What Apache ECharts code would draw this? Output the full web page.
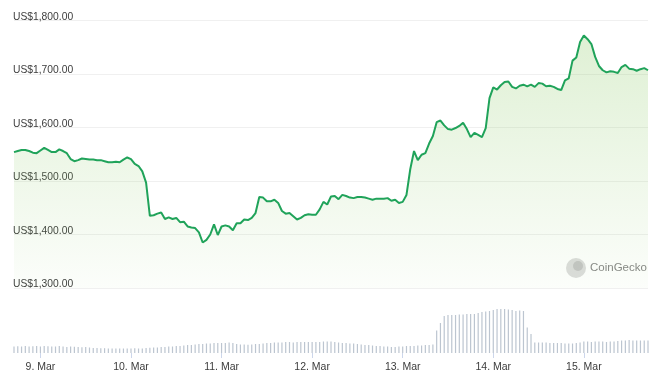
<!DOCTYPE html>
<html>
<head>
<meta charset="utf-8">
<script src="https://cdn.jsdelivr.net/npm/echarts@6/dist/echarts.min.js"></script>
<style>html,body{margin:0;padding:0;background:#fff;}#c{width:660px;height:376px;}</style>
</head>
<body>
<div id="c"></div>
<script>
// Hourly samples from 8 Mar 17:00 to 15 Mar 17:00
const startDay = 8;
const startHour = 17;
const dayLabels = ['9. Mar','10. Mar','11. Mar','12. Mar','13. Mar','14. Mar','15. Mar'];
const priceTicks = [1300, 1400, 1500, 1600, 1700, 1800];

const price = [
1554,1556,1558,1558,1556,1553,1552,1557,1562,1558,1554,1554,1559,1556,1552,1541,1537,1539,1542,1541,
1540,1540,1539,1539,1537,1535,1535,1536,1535,1540,1544,1541,1532,1528,1518,1497,1435,1436,1439,1441,
1429,1432,1429,1431,1423,1424,1415,1413,1412,1404,1385,1390,1400,1419,1399,1415,1417,1415,1408,1421,
1421,1428,1427,1431,1440,1470,1469,1462,1462,1465,1459,1444,1439,1440,1434,1428,1431,1436,1438,1437,
1437,1447,1461,1456,1471,1472,1466,1474,1472,1469,1468,1470,1470,1469,1467,1465,1467,1467,1467,1468,
1463,1465,1459,1461,1474,1522,1556,1539,1549,1552,1570,1584,1610,1613,1604,1597,1596,1599,1603,1609,
1597,1582,1590,1586,1582,1599,1655,1675,1671,1679,1685,1686,1676,1673,1678,1680,1677,1680,1676,1683,
1682,1677,1678,1676,1672,1670,1688,1692,1725,1731,1760,1772,1765,1756,1732,1715,1707,1703,1705,1704,
1702,1713,1717,1710,1709,1706,1709,1711,1707
];

const volume = [
6.5,6.8,6.5,7,6.5,6.8,7,6.5,7,6.8,6.5,
6.5,7,6.5,6,6.5,6.2,6,5.8,6,5.5,
5,5,4.8,4.8,4.5,4.5,4.6,4.5,
4.5,4.6,4.5,4.8,4.5,4.6,5,5.2,
5.5,5.5,6,6,6.5,6.5,7,7,7.5,
8,8,8.5,9,9,9.5,9.5,10,10,10,
10,10.5,10,9,8.5,8.5,8.2,
8.5,9,9,9.5,10,10,10.5,10.5,
10.5,11,11,10.5,11,11,11,11,11,11,11,11.5,11.5,11.5,
11,10.5,10,10,9.5,9.5,
9,8.5,8,8,7.5,7,7,
6.5,6.5,6,6,6.5,6.5,7,
7,7,7.5,7.5,8,8,8.5,
22.6,30,37,
38,38,38,38.5,38.5,39,39,39,40,
41,41.5,42,43,44,44,
44,43.5,43,42,42.5,42,
25.6,19,
10.5,10.5,10.5,10.5,10,10,10,10,
9.5,9.5,9.5,10,10.5,
11.5,11.5,11,11.5,11.5,11.5,11,11.5,11.5,12,
12.5,12.5,13,12.5,12.5,12.5,12.5,12.5
];

// hourly category keys
const hours = [];
for (let i = 0; i < price.length; i++) {
  const h = startHour + i;
  hours.push({ day: startDay + Math.floor(h / 24), hour: h % 24 });
}
const categories = hours.map(o => o.day + ' Mar ' + String(o.hour).padStart(2, '0') + ':00');
const isMidnight = (idx) => hours[idx] && hours[idx].hour === 0;
const labelFor = (idx) => dayLabels[hours[idx].day - 9] || '';

const chart = echarts.init(document.getElementById('c'), null, { renderer: 'canvas' });
const font = 'Liberation Sans, Arial, sans-serif';

chart.setOption({
  animation: false,
  backgroundColor: '#ffffff',
  grid: [
    { left: 14, right: 12, top: 20.5, bottom: 376 - 288 },
    { left: 14, right: 12, top: 303, bottom: 23 }
  ],
  xAxis: [
    {
      type: 'category', gridIndex: 0, data: categories, boundaryGap: false,
      axisLine: { show: false }, axisTick: { show: false }, axisLabel: { show: false },
      splitLine: { show: false }
    },
    {
      type: 'category', gridIndex: 1, data: categories, boundaryGap: false,
      axisLine: { show: false },
      axisTick: { show: true, length: 5, interval: (idx) => isMidnight(idx), lineStyle: { color: '#ccd6eb', width: 1 } },
      axisLabel: {
        show: true, interval: (idx) => isMidnight(idx), margin: 9,
        formatter: (v, idx) => labelFor(idx),
        color: '#3c3c3c', fontSize: 10.5, fontFamily: font
      },
      splitLine: { show: false }
    }
  ],
  yAxis: [
    {
      type: 'value', gridIndex: 0, min: priceTicks[0], max: priceTicks[priceTicks.length - 1], interval: 100,
      axisLine: { show: false }, axisTick: { show: false },
      splitLine: { show: true, lineStyle: { color: '#f0f0f0', width: 1 } },
      axisLabel: {
        inside: true, margin: -1, verticalAlign: 'bottom', lineHeight: 7,
        showMinLabel: true, showMaxLabel: true,
        color: '#3c3c3c', fontSize: 10.3, fontFamily: font,
        formatter: (v) => 'US$' + v.toLocaleString('en-US', { minimumFractionDigits: 2, maximumFractionDigits: 2 })
      }
    },
    {
      type: 'value', gridIndex: 1, min: 0, max: 50,
      show: false, splitLine: { show: false }
    }
  ],
  graphic: [
    { type: 'circle', shape: { cx: 576, cy: 268, r: 10 }, style: { fill: '#dcdcdc' }, z: 1 },
    { type: 'circle', shape: { cx: 578, cy: 266, r: 5 }, style: { fill: '#c4c4c4' }, z: 2 },
    { type: 'text', left: 590, top: 262, style: { text: 'CoinGecko', fill: '#878787', fontSize: 11.5, fontFamily: font }, z: 2 }
  ],
  series: [
    {
      type: 'line', xAxisIndex: 0, yAxisIndex: 0, data: price,
      symbol: 'none', smooth: false,
      lineStyle: { color: '#20a35a', width: 2 },
      areaStyle: {
        origin: 'start',
        color: new echarts.graphic.LinearGradient(0, 0, 0, 1, [
          { offset: 0, color: 'rgba(135,200,95,0.38)' },
          { offset: 1, color: 'rgba(135,200,95,0.04)' }
        ])
      },
      z: 3
    },
    {
      type: 'bar', xAxisIndex: 1, yAxisIndex: 1, data: volume,
      barWidth: 1.2, itemStyle: { color: '#bcc5d0' }
    }
  ]
});
</script>
</body>
</html>
